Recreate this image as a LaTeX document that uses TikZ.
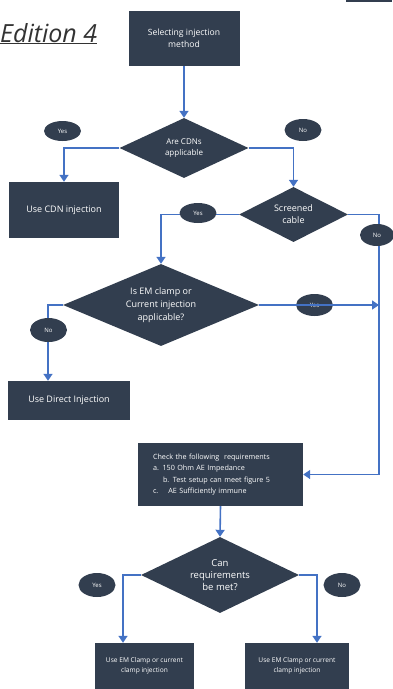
\documentclass[tikz,border=0pt]{standalone}
\usepackage{fontspec}
\setmainfont{Open Sans}
\usetikzlibrary{shapes, arrows.meta, calc}
\definecolor{slate}{RGB}{50,62,79}
\definecolor{flowblue}{RGB}{68,114,196}
\tikzstyle{block}=[
  rectangle,
  fill=slate,
  text=white,
  align=center,
  inner sep=1pt,
  font={\fontsize{8.6}{12}\selectfont}
]
\tikzstyle{decision}=[
  diamond,
  fill=slate,
  text=white,
  align=center,
  inner sep=0pt,
  font={\fontsize{8.6}{12}\selectfont}
]
\tikzstyle{answer}=[
  ellipse,
  fill=slate,
  text=white,
  inner sep=0pt,
  minimum width=37pt,
  minimum height=22pt,
  font={\fontsize{6}{6}\selectfont}
]
\tikzstyle{flow}=[
  draw=flowblue,
  line width=1.6pt,
  -{Triangle[width=9pt,length=7pt]}
]

\begin{document}
\begin{tikzpicture}[x=1pt, y=-1pt]

\newcommand\RAIL{379}

\useasboundingbox (0,0) rectangle (393,689); %% frame

\fill[slate] (346,0) rectangle (392,1.5);

\node[anchor=base west, inner sep=0pt, text=black!80,
  font={\fontsize{25}{28}\selectfont\itshape}] (edition) at (0,42) {\underline{Edition 4}};

%% top part
\node[block, minimum width=111pt, minimum height=55pt] (select) at (184,38.5) {Selecting injection\\method};
\node[decision, minimum width=129pt, minimum height=60pt, aspect=2.15,
  font={\fontsize{8}{11}\selectfont}] (cdns) at (184,148) {Are CDNs\\applicable};
\node[block, minimum width=110pt, minimum height=56pt, font={\fontsize{9}{12}\selectfont}] (usecdn) at (64,210) {Use CDN injection};
\node[decision, minimum width=109pt, minimum height=55pt, aspect=2,
  font={\fontsize{9}{12}\selectfont}] (screened) at (293.5,214.5) {Screened\\cable};

%% middle part
\node[decision, minimum width=196pt, minimum height=82pt, aspect=2.4,
  font={\fontsize{9}{13}\selectfont}] (clampq) at (161,305) {Is EM clamp or\\Current injection\\applicable?};
\node[block, minimum width=122pt, minimum height=39pt, font={\fontsize{9}{12}\selectfont}] (direct) at (69,400.5) {Use Direct Injection};
\node[block, minimum width=165pt, minimum height=63pt, align=left, text width=135pt,
  font={\fontsize{7.2}{11.5}\selectfont}] (check) at (220.5,474.5) {Check the following \ requirements\\a. 150 Ohm AE Impedance\\\hspace*{10pt}b. Test setup can meet figure 5\\c.\hspace*{10pt}AE Sufficiently immune};

%% bottom part
\node[decision, minimum width=158pt, minimum height=76pt, aspect=2.08,
  font={\fontsize{9.5}{12}\selectfont}] (canmet) at (220,575) {Can\\requirements\\be met?};
\node[block, minimum width=99pt, minimum height=46pt, font={\fontsize{6.6}{10}\selectfont}] (clampl) at (144.5,666) {Use EM Clamp or current\\clamp injection};
\node[block, minimum width=104pt, minimum height=46pt, font={\fontsize{6.6}{10}\selectfont}] (clampr) at (297,666) {Use EM Clamp or current\\clamp injection};

\node[answer] (yesclamp) at (314.5,305) {Yes};

\coordinate (railtop) at (\RAIL,214.5);
\coordinate (railend) at (\RAIL,474.5);

\draw[flow] (select.south) -- (cdns.north);
\draw[flow] (cdns.west) -| (usecdn.north);
\draw[flow] (cdns.east) -| (screened.north);
\draw[flow] (screened.west) -| (clampq.north);
\draw[flow] (screened.east) -- (railtop) -- (railend) -- (check.east);
\draw[flow] (clampq.east) -- (clampq.east -| railtop);
\draw[flow] (clampq.west) -| ([xshift=-21pt]direct.north);
\draw[flow] (check.south) -- (canmet.north);
\draw[flow] (canmet.west) -| ([xshift=-21.5pt]clampl.north);
\draw[flow] (canmet.east) -| ([xshift=20pt]clampr.north);

\node[answer, minimum height=20pt] (yescdn) at (62.5,131) {Yes};
\node[answer] (nocdn) at (303,130) {No};
\node[answer, minimum height=20pt] (yesscr) at (198,213) {Yes};
\node[answer, minimum width=34pt] (noscr) at (377,235) {No};
\node[answer, minimum height=24pt] (noclamp) at (48.5,330) {No};
\node[answer, minimum height=24pt] (yesmet) at (97,585) {Yes};
\node[answer, minimum height=24pt] (nomet) at (342,585) {No};

\end{tikzpicture}
\end{document}
